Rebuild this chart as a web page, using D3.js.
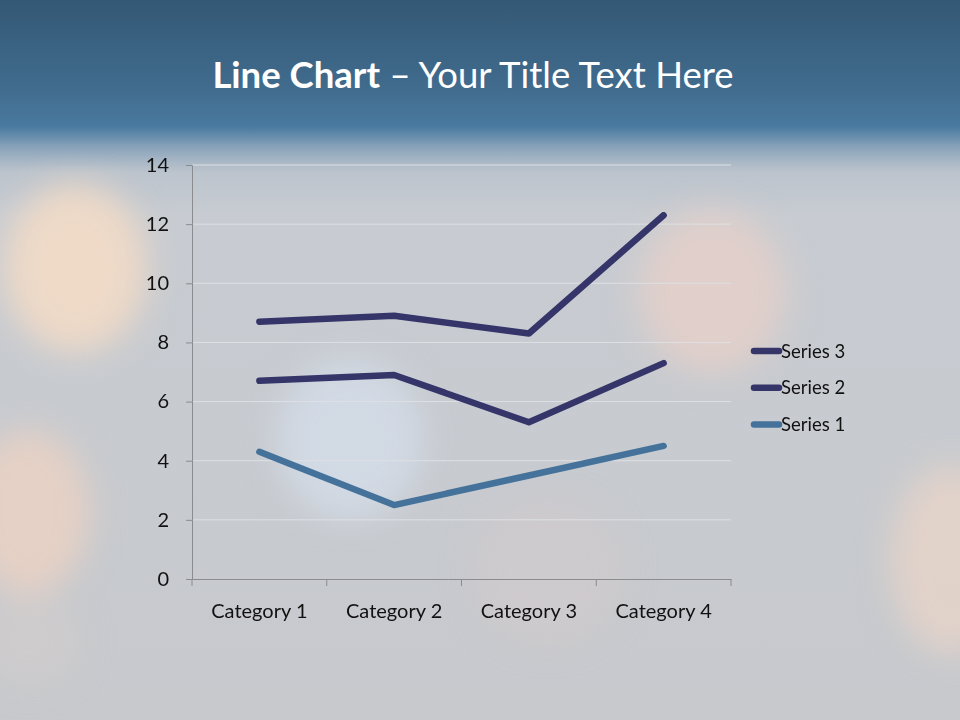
<!DOCTYPE html>
<html><head><meta charset="utf-8">
<script src="https://cdn.jsdelivr.net/npm/d3@7"></script>
<style>html,body{margin:0;padding:0;overflow:hidden;background:#c8ccd2}</style>
</head><body>
<script>
const categories = ["Category 1", "Category 2", "Category 3", "Category 4"];
const series1 = [4.3, 2.5, 3.5, 4.5];
const series2 = [2.4, 4.4, 1.8, 2.8];
const series3 = [2, 2, 3, 5];
const seriesNames = ["Series 1", "Series 2", "Series 3"];
const yTicks = [0, 2, 4, 6, 8, 10, 12, 14];

(function () {
const W = 960, H = 720;
const svg = d3.select("body").append("svg").attr("width", W).attr("height", H);
const defs = svg.append("defs");

// background
const bg = defs.append("linearGradient").attr("id", "bg").attr("x1", 0).attr("y1", 0).attr("x2", 0).attr("y2", 1);
[[0, "#335875"], [0.12, "#3f6888"], [0.175, "#4a7aa0"], [0.2, "#8ea6bd"], [0.24, "#bcc4cd"], [0.3, "#c8ccd2"], [1, "#c7c9cd"]]
  .forEach(([o, c]) => bg.append("stop").attr("offset", o).attr("stop-color", c));
svg.append("rect").attr("width", W).attr("height", H).attr("fill", "url(#bg)");

const blur = defs.append("filter").attr("id", "blur").attr("x", "-50%").attr("y", "-50%").attr("width", "200%").attr("height", "200%");
blur.append("feGaussianBlur").attr("stdDeviation", 16);
const bokeh = [
  [75, 268, 72, 85, "#f4dcc6", 0.85],
  [28, 512, 62, 82, "#efd3c2", 0.75],
  [350, 440, 74, 80, "#d6e0ec", 0.7],
  [712, 292, 74, 82, "#e8d0c8", 0.75],
  [950, 560, 60, 95, "#ecd6c8", 0.7],
  [548, 572, 75, 72, "#d8cccc", 0.45],
  [30, 640, 50, 45, "#d9cfca", 0.4]
];
const bk = svg.append("g").attr("filter", "url(#blur)");
bokeh.forEach(([cx, cy, rx, ry, c, o]) => {
  bk.append("ellipse").attr("cx", cx).attr("cy", cy).attr("rx", rx).attr("ry", ry).attr("fill", c).attr("opacity", o);
});
const bgTop = defs.append("linearGradient").attr("id", "bgTop").attr("x1", 0).attr("y1", 0).attr("x2", 0).attr("y2", 1);
[[0, "#335875"], [0.7, "#416c8e"], [1, "#4a7aa0"]].forEach(([o, c]) => bgTop.append("stop").attr("offset", o).attr("stop-color", c));
svg.append("rect").attr("width", W).attr("height", 128).attr("fill", "url(#bgTop)");
const band = defs.append("linearGradient").attr("id", "band").attr("x1", 0).attr("y1", 0).attr("x2", 0).attr("y2", 1);
[[0, "#4a7aa0", 1], [1, "#a9b8c6", 0]].forEach(([o, c, a]) => band.append("stop").attr("offset", o).attr("stop-color", c).attr("stop-opacity", a));
svg.append("rect").attr("y", 126).attr("width", W).attr("height", 40).attr("fill", "url(#band)");

// title
const title = svg.append("text").attr("x", 473).attr("y", 88).attr("text-anchor", "middle")
  .attr("font-family", "Lato, 'Open Sans', sans-serif").attr("font-size", 36.5).attr("fill", "#ffffff");
title.append("tspan").attr("font-weight", "bold").text("Line Chart");
title.append("tspan").text(" \u2013 Your Title Text Here");

// chart
const pL = 192, pR = 731, pT = 165, pB = 579;
const x = d3.scaleBand().domain(categories).range([pL, pR]);
const y = d3.scaleLinear().domain([0, 14]).range([pB, pT]);

const font = "Lato, 'Open Sans', sans-serif";
svg.append("g").selectAll("line").data(yTicks.filter(t => t > 0)).join("line")
  .attr("x1", pL).attr("x2", pR).attr("y1", d => y(d)).attr("y2", d => y(d))
  .attr("stroke", "#dde0e4").attr("stroke-width", 1);

const yAxis = svg.append("g").attr("transform", `translate(${pL},0)`)
  .call(d3.axisLeft(y).tickValues(yTicks).tickSize(6).tickPadding(17).tickFormat(d3.format("d")));
const xAxis = svg.append("g").attr("transform", `translate(0,${pB})`)
  .call(d3.axisBottom(x).tickSize(0).tickPadding(25));
[yAxis, xAxis].forEach(a => {
  a.select(".domain").attr("stroke", "#8a8c90");
  a.selectAll(".tick line").attr("stroke", "#8a8c90");
  a.selectAll("text").attr("font-family", font).attr("font-size", 20).attr("fill", "#111");
});
svg.append("g").selectAll("line").data(categories.map((c) => x(c)).concat([pR])).join("line")
  .attr("x1", d => d).attr("x2", d => d).attr("y1", pB).attr("y2", pB + 7)
  .attr("stroke", "#8a8c90");

// stacked lines
const stacked = categories.map((c, i) => {
  const s1 = series1[i], s2 = s1 + series2[i], s3 = s2 + series3[i];
  return [s1, s2, s3];
});
const colors = ["#44729a", "#35356a", "#35356a"];
const line = d3.line().x((d, i) => x(categories[i]) + x.bandwidth() / 2).y(d => y(d));
[0, 1, 2].forEach(k => {
  svg.append("path").datum(stacked.map(r => r[k])).attr("d", line)
    .attr("fill", "none").attr("stroke", colors[k]).attr("stroke-width", 6.5)
    .attr("stroke-linecap", "round").attr("stroke-linejoin", "round");
});

// legend
const legendItems = [2, 1, 0];
const lg = svg.append("g");
legendItems.forEach((k, j) => {
  const ly = 351 + j * 36.7;
  lg.append("line").attr("x1", 754).attr("x2", 779).attr("y1", ly).attr("y2", ly)
    .attr("stroke", colors[k]).attr("stroke-width", 6.5).attr("stroke-linecap", "round");
  lg.append("text").attr("x", 781).attr("y", ly + 6.5).attr("font-family", font).attr("font-size", 18.5)
    .attr("fill", "#111").text(seriesNames[k]);
});
})();
</script>
</body></html>
